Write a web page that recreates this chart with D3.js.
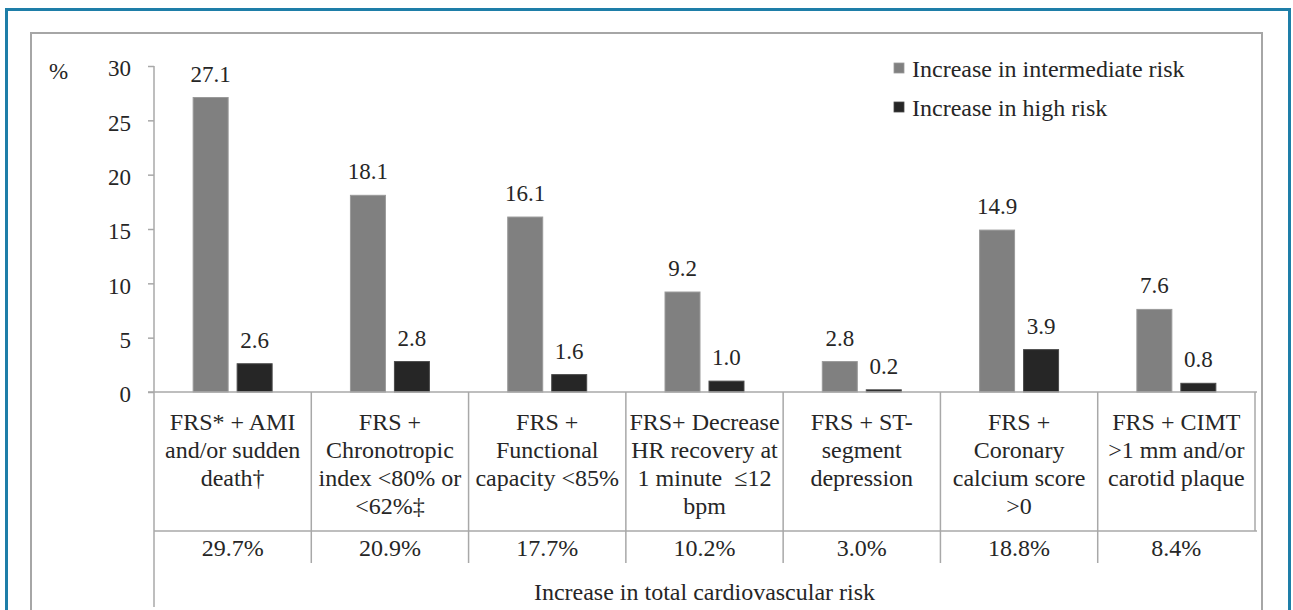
<!DOCTYPE html>
<html>
<head>
<meta charset="utf-8">
<script src="https://cdn.jsdelivr.net/npm/d3@7"></script>
</head>
<body style="margin:0;background:#fff">
<svg id="chart" width="1293" height="610" font-family="Liberation Serif" style="display:block"></svg>
<script>
// ---- data ----
const categories = [
  ["FRS* + AMI", "and/or sudden", "death\u2020"],
  ["FRS +", "Chronotropic", "index <80% or", "<62%\u2021"],
  ["FRS +", "Functional", "capacity <85%"],
  ["FRS+ Decrease", "HR recovery at", "1 minute  \u226412", "bpm"],
  ["FRS + ST-", "segment", "depression"],
  ["FRS +", "Coronary", "calcium score", ">0"],
  ["FRS + CIMT", ">1 mm and/or", "carotid plaque"]
];
const seriesNames = ["Increase in intermediate risk", "Increase in high risk"];
const intermediateRisk = [27.1, 18.1, 16.1, 9.2, 2.8, 14.9, 7.6];
const highRisk = [2.6, 2.8, 1.6, 1.0, 0.2, 3.9, 0.8];
const totalRisk = ["29.7%", "20.9%", "17.7%", "10.2%", "3.0%", "18.8%", "8.4%"];
const totalLabel = "Increase in total cardiovascular risk";
const yTicks = [0, 5, 10, 15, 20, 25, 30];
const yUnit = "%";

// ---- layout ----
const FONT = "Liberation Serif";
const TXT = "#262626";
const svg = d3.select("#chart");
const colors = ["#808080", "#262626"];
const strokes = ["#9a9a9a", "#4a4a4a"];
const axisColor = "#a8a8a8";

const x0 = 154, x1 = 1255;
const yBase = 392, yTop = 66;
const tableMid = 531, tableBottom = 563, axisBottom = 607;

// frames
svg.append("path")
  .attr("d", "M6.5,612 V9.5 H1289.5 V612")
  .attr("fill", "none").attr("stroke", "#1e7ea8").attr("stroke-width", 3);
svg.append("path")
  .attr("d", "M31,612 V33 H1262 V612")
  .attr("fill", "none").attr("stroke", "#a6a6a6").attr("stroke-width", 2);

const idx = d3.range(categories.length);
const x = d3.scaleBand().domain(idx).range([x0, x1]).paddingInner(0).paddingOuter(0);
const xs = d3.scaleBand().domain([0, 1]).range([0, x.bandwidth()])
  .paddingInner(0.2045).paddingOuter(0.89);
const y = d3.scaleLinear().domain([0, 30]).range([yBase, yTop]);

// y axis
const yAxis = d3.axisLeft(y).tickValues(yTicks).tickSizeInner(6).tickSizeOuter(0).tickPadding(17);
const gy = svg.append("g").attr("transform", `translate(${x0},0)`).call(yAxis)
  .attr("font-family", FONT).attr("font-size", 23);
gy.select(".domain").remove();
gy.selectAll(".tick line").attr("stroke", axisColor).attr("stroke-width", 1.5);
gy.selectAll(".tick text")
  .attr("font-family", FONT)
  .attr("font-size", 23).attr("fill", TXT).attr("dy", "0.42em");

svg.append("text").attr("x", 49).attr("y", 79).attr("font-size", 23)
  .attr("font-family", FONT).attr("fill", TXT).text(yUnit);

// bars
const series = [intermediateRisk, highRisk];
series.forEach((vals, s) => {
  svg.append("g").selectAll("rect").data(vals).join("rect")
    .attr("x", (d, i) => x(i) + xs(s))
    .attr("width", xs.bandwidth())
    .attr("y", d => y(d))
    .attr("height", d => yBase - y(d))
    .attr("fill", colors[s]).attr("stroke", strokes[s]).attr("stroke-width", 1);
  svg.append("g").selectAll("text").data(vals).join("text")
    .attr("x", (d, i) => x(i) + xs(s) + xs.bandwidth() / 2)
    .attr("y", d => y(d) - 16)
    .attr("text-anchor", "middle").attr("font-size", 23)
    .attr("font-family", FONT).attr("fill", TXT)
    .text(d => d.toFixed(1));
});

// axis line (extends through the table)
svg.append("line").attr("x1", x0).attr("x2", x0).attr("y1", yTop).attr("y2", axisBottom)
  .attr("stroke", axisColor).attr("stroke-width", 1.5);
// baseline
svg.append("line").attr("x1", x0 - 6).attr("x2", x1 + 2).attr("y1", yBase).attr("y2", yBase)
  .attr("stroke", axisColor).attr("stroke-width", 1.5);
// table horizontal line
svg.append("line").attr("x1", x0).attr("x2", x1 + 2).attr("y1", tableMid).attr("y2", tableMid)
  .attr("stroke", axisColor).attr("stroke-width", 1.5);
// dividers
svg.append("g").selectAll("line").data(idx.slice(1)).join("line")
  .attr("x1", i => x(i)).attr("x2", i => x(i))
  .attr("y1", yBase).attr("y2", tableBottom)
  .attr("stroke", axisColor).attr("stroke-width", 1.5);
svg.append("line").attr("x1", x1).attr("x2", x1).attr("y1", yBase).attr("y2", tableMid)
  .attr("stroke", axisColor).attr("stroke-width", 1.5);

// category labels
const cg = svg.append("g").selectAll("text").data(categories).join("text")
  .attr("text-anchor", "middle").attr("font-size", 24)
  .attr("font-family", FONT).attr("fill", TXT)
  .attr("x", (d, i) => x(i) + x.bandwidth() / 2)
  .attr("y", 430);
cg.selectAll("tspan").data(d => d).join("tspan")
  .attr("x", function () { return this.parentNode.getAttribute("x"); })
  .attr("y", (d, j) => 430 + j * 28)
  .attr("xml:space", "preserve")
  .style("white-space", "pre")
  .text(d => d);

// totals row
svg.append("g").selectAll("text").data(totalRisk).join("text")
  .attr("x", (d, i) => x(i) + x.bandwidth() / 2)
  .attr("y", 556).attr("text-anchor", "middle").attr("font-size", 24)
  .attr("font-family", FONT).attr("fill", TXT)
  .text(d => d);

svg.append("text").attr("x", (x0 + x1) / 2).attr("y", 600)
  .attr("text-anchor", "middle").attr("font-size", 24)
  .attr("font-family", FONT).attr("fill", TXT).text(totalLabel);

// legend
const lg = svg.append("g").selectAll("g").data(seriesNames).join("g")
  .attr("transform", (d, i) => `translate(894, ${63 + i * 39})`);
lg.append("rect").attr("width", 10).attr("height", 10)
  .attr("fill", (d, i) => colors[i]).attr("stroke", (d, i) => strokes[i]).attr("stroke-width", 0.8);
lg.append("text").attr("x", 18).attr("y", 14).attr("font-size", 24)
  .attr("font-family", FONT).attr("fill", TXT).text(d => d);
</script>
</body>
</html>
